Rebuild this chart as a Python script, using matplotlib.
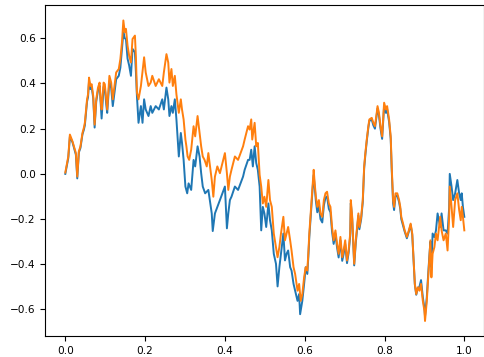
import numpy as np
import matplotlib
matplotlib.use("Agg")
import matplotlib.pyplot as plt

# two correlated random-walk paths, sampled at irregular times
t_a = [0.000, 0.0075, 0.0115, 0.018, 0.024, 0.0265, 0.030, 0.034, 0.038, 0.043,
       0.0465, 0.049, 0.0545, 0.057, 0.0595, 0.063, 0.066, 0.070, 0.0735, 0.0775,
       0.082, 0.086, 0.0885, 0.091, 0.096, 0.099, 0.1025, 0.105, 0.1105, 0.115,
       0.119, 0.1275, 0.134, 0.138, 0.142, 0.1455, 0.149, 0.152, 0.156, 0.160,
       0.1645, 0.1685, 0.1745, 0.177, 0.1795, 0.1835, 0.1895, 0.1935, 0.1975, 0.2015,
       0.2085, 0.214, 0.218, 0.2265, 0.2345, 0.243, 0.247, 0.2535, 0.258, 0.261,
       0.266, 0.2695, 0.2745, 0.2785, 0.2845, 0.2895, 0.2925, 0.2965, 0.301, 0.3055,
       0.309, 0.3155, 0.3215, 0.3255, 0.3315, 0.3365, 0.3405, 0.3445, 0.3505, 0.3585,
       0.367, 0.3695, 0.375, 0.381, 0.3875, 0.400, 0.405, 0.4085, 0.4125, 0.4165,
       0.425, 0.433, 0.4455, 0.4495, 0.458, 0.462, 0.466, 0.470, 0.4745, 0.4785,
       0.4825, 0.487, 0.491, 0.495, 0.499, 0.5035, 0.509, 0.513, 0.5175, 0.5225,
       0.528, 0.532, 0.5365, 0.5405, 0.5465, 0.5505, 0.5545, 0.5585, 0.5635, 0.567,
       0.572, 0.576, 0.582, 0.586, 0.5885, 0.594, 0.5985, 0.6025, 0.6065, 0.609,
       0.6115, 0.615, 0.6175, 0.620, 0.6225, 0.625, 0.628, 0.6315, 0.6355, 0.6395,
       0.644, 0.648, 0.652, 0.656, 0.6605, 0.6645, 0.6685, 0.6725, 0.677, 0.681,
       0.685, 0.6895, 0.694, 0.6975, 0.7015, 0.706, 0.710, 0.714, 0.7155, 0.719,
       0.724, 0.728, 0.7305, 0.7345, 0.737, 0.7415, 0.7455, 0.749, 0.752, 0.7555,
       0.7595, 0.762, 0.768, 0.772, 0.776, 0.780, 0.7825, 0.786, 0.790, 0.794,
       0.7965, 0.799, 0.8035, 0.8065, 0.8115, 0.8155, 0.818, 0.8215, 0.824, 0.8275,
       0.832, 0.8365, 0.8395, 0.842, 0.8465, 0.8505, 0.856, 0.861, 0.8655, 0.8695,
       0.8725, 0.876, 0.8795, 0.8835, 0.8875, 0.8915, 0.896, 0.900, 0.9015, 0.906,
       0.9085, 0.9125, 0.915, 0.9175, 0.9205, 0.925, 0.929, 0.933, 0.9395, 0.943,
       0.948, 0.9535, 0.958, 0.962, 0.9635, 0.968, 0.972, 0.977, 0.9825, 0.987,
       0.991, 0.9935, 0.9965, 1.000]
path_a = [0.000, 0.070, 0.165, 0.140, 0.100, 0.085, -0.020, 0.095, 0.115, 0.175,
          0.195, 0.215, 0.320, 0.340, 0.410, 0.375, 0.385, 0.335, 0.205, 0.320,
          0.370, 0.390, 0.315, 0.245, 0.385, 0.380, 0.310, 0.270, 0.410, 0.380,
          0.300, 0.419, 0.434, 0.470, 0.550, 0.625, 0.600, 0.597, 0.510, 0.480,
          0.434, 0.553, 0.538, 0.450, 0.345, 0.226, 0.300, 0.226, 0.330, 0.285,
          0.256, 0.300, 0.270, 0.300, 0.285, 0.330, 0.285, 0.382, 0.330, 0.256,
          0.300, 0.270, 0.330, 0.241, 0.077, 0.181, 0.137, 0.062, -0.056, -0.086,
          -0.042, -0.071, 0.062, 0.033, 0.122, 0.077, 0.003, -0.056, -0.086, -0.071,
          -0.175, -0.253, -0.175, -0.146, -0.116, -0.056, -0.241, -0.175, -0.116, -0.101,
          -0.056, -0.071, -0.012, 0.018, 0.062, 0.062, 0.107, 0.033, 0.122, 0.048,
          0.018, -0.056, -0.250, -0.146, -0.175, -0.235, -0.131, -0.205, -0.250, -0.354,
          -0.398, -0.498, -0.413, -0.354, -0.264, -0.383, -0.354, -0.339, -0.413, -0.428,
          -0.487, -0.517, -0.562, -0.532, -0.621, -0.562, -0.487, -0.413, -0.443, -0.370,
          -0.280, -0.190, -0.130, -0.060, -0.005, -0.060, -0.120, -0.170, -0.140, -0.200,
          -0.215, -0.140, -0.105, -0.100, -0.155, -0.170, -0.255, -0.310, -0.265, -0.325,
          -0.370, -0.295, -0.385, -0.355, -0.310, -0.395, -0.350, -0.275, -0.130, -0.200,
          -0.405, -0.305, -0.260, -0.185, -0.245, -0.200, -0.125, 0.025, 0.085, 0.145,
          0.205, 0.235, 0.240, 0.215, 0.200, 0.255, 0.290, 0.260, 0.200, 0.155,
          0.230, 0.300, 0.270, 0.285, 0.230, 0.155, 0.020, -0.130, -0.160, -0.100,
          -0.095, -0.125, -0.155, -0.200, -0.230, -0.255, -0.285, -0.255, -0.225, -0.270,
          -0.375, -0.490, -0.535, -0.505, -0.500, -0.470, -0.545, -0.595, -0.630, -0.545,
          -0.470, -0.360, -0.300, -0.413, -0.264, -0.280, -0.250, -0.175, -0.235, -0.175,
          -0.250, -0.250, -0.264, -0.150, 0.000, -0.056, -0.116, -0.086, -0.027, -0.086,
          -0.116, -0.086, -0.146, -0.190]

t_b = [0.000, 0.0075, 0.0115, 0.018, 0.024, 0.0265, 0.030, 0.034, 0.038, 0.043,
       0.0465, 0.049, 0.0545, 0.057, 0.0595, 0.063, 0.066, 0.070, 0.0735, 0.0775,
       0.082, 0.086, 0.0885, 0.091, 0.096, 0.099, 0.1025, 0.105, 0.1105, 0.115,
       0.119, 0.1275, 0.134, 0.138, 0.142, 0.1455, 0.149, 0.152, 0.156, 0.160,
       0.1645, 0.1685, 0.1745, 0.177, 0.1795, 0.1835, 0.1895, 0.1975, 0.2015, 0.2085,
       0.214, 0.218, 0.2265, 0.2345, 0.243, 0.247, 0.2535, 0.258, 0.261, 0.266,
       0.2695, 0.2745, 0.2785, 0.2845, 0.2895, 0.2925, 0.2965, 0.301, 0.3035, 0.3065,
       0.3105, 0.3155, 0.3215, 0.3255, 0.3315, 0.3365, 0.3405, 0.3445, 0.349, 0.3545,
       0.3585, 0.367, 0.371, 0.375, 0.381, 0.3875, 0.400, 0.405, 0.4085, 0.4125,
       0.4165, 0.425, 0.433, 0.4455, 0.4495, 0.458, 0.462, 0.466, 0.4685, 0.4745,
       0.4785, 0.4825, 0.487, 0.491, 0.495, 0.499, 0.5035, 0.509, 0.513, 0.5175,
       0.5225, 0.528, 0.532, 0.5365, 0.5405, 0.5465, 0.5505, 0.5545, 0.5585, 0.5635,
       0.567, 0.572, 0.576, 0.582, 0.586, 0.590, 0.594, 0.5985, 0.6025, 0.6065,
       0.609, 0.6115, 0.615, 0.6175, 0.620, 0.6225, 0.625, 0.628, 0.6315, 0.6355,
       0.6395, 0.644, 0.648, 0.652, 0.656, 0.6605, 0.6645, 0.6685, 0.6725, 0.677,
       0.681, 0.685, 0.6895, 0.694, 0.6975, 0.7015, 0.706, 0.710, 0.714, 0.7155,
       0.719, 0.724, 0.728, 0.7305, 0.7345, 0.737, 0.7415, 0.7455, 0.749, 0.752,
       0.7555, 0.7595, 0.762, 0.768, 0.772, 0.776, 0.780, 0.7825, 0.786, 0.790,
       0.794, 0.7965, 0.799, 0.8035, 0.8065, 0.8115, 0.8155, 0.818, 0.8215, 0.824,
       0.8275, 0.832, 0.8365, 0.8395, 0.842, 0.8465, 0.8505, 0.856, 0.861, 0.8655,
       0.8695, 0.8725, 0.876, 0.8795, 0.8835, 0.8875, 0.8915, 0.896, 0.900, 0.9015,
       0.906, 0.9085, 0.9125, 0.915, 0.9175, 0.9205, 0.925, 0.929, 0.933, 0.9395,
       0.943, 0.948, 0.9535, 0.958, 0.962, 0.9635, 0.968, 0.972, 0.977, 0.9825,
       0.987, 0.991, 0.9935, 0.9965, 1.000]
path_b = [0.006, 0.077, 0.174, 0.144, 0.107, 0.092, -0.012, 0.100, 0.122, 0.181,
          0.204, 0.226, 0.330, 0.352, 0.426, 0.389, 0.397, 0.345, 0.218, 0.330,
          0.382, 0.404, 0.330, 0.285, 0.404, 0.397, 0.330, 0.285, 0.434, 0.404,
          0.330, 0.449, 0.464, 0.508, 0.582, 0.679, 0.627, 0.642, 0.568, 0.523,
          0.493, 0.597, 0.612, 0.516, 0.360, 0.330, 0.389, 0.516, 0.449, 0.389,
          0.404, 0.434, 0.389, 0.419, 0.389, 0.449, 0.530, 0.493, 0.404, 0.464,
          0.389, 0.434, 0.352, 0.270, 0.330, 0.285, 0.241, 0.152, 0.122, 0.077,
          0.062, 0.107, 0.211, 0.166, 0.256, 0.181, 0.122, 0.077, 0.062, 0.033,
          0.092, -0.027, -0.101, -0.012, 0.033, 0.003, 0.092, 0.003, -0.071, -0.012,
          0.018, 0.077, 0.062, 0.122, 0.152, 0.211, 0.196, 0.241, 0.152, 0.226,
          0.122, 0.137, -0.004, -0.056, -0.131, -0.101, -0.146, -0.027, -0.116, -0.146,
          -0.264, -0.324, -0.369, -0.324, -0.264, -0.190, -0.294, -0.264, -0.235, -0.294,
          -0.339, -0.413, -0.443, -0.517, -0.487, -0.562, -0.532, -0.458, -0.413, -0.428,
          -0.354, -0.264, -0.175, -0.116, -0.042, 0.018, -0.042, -0.101, -0.146, -0.116,
          -0.175, -0.190, -0.116, -0.086, -0.079, -0.131, -0.146, -0.235, -0.294, -0.250,
          -0.309, -0.354, -0.279, -0.369, -0.339, -0.294, -0.383, -0.339, -0.264, -0.116,
          -0.190, -0.398, -0.294, -0.250, -0.175, -0.235, -0.190, -0.116, 0.033, 0.092,
          0.152, 0.211, 0.241, 0.248, 0.226, 0.211, 0.263, 0.300, 0.270, 0.211,
          0.166, 0.241, 0.315, 0.285, 0.300, 0.241, 0.166, 0.033, -0.116, -0.146,
          -0.086, -0.086, -0.116, -0.146, -0.190, -0.220, -0.250, -0.279, -0.250, -0.220,
          -0.264, -0.369, -0.487, -0.532, -0.502, -0.517, -0.487, -0.562, -0.606, -0.651,
          -0.562, -0.487, -0.369, -0.294, -0.458, -0.354, -0.324, -0.264, -0.294, -0.190,
          -0.250, -0.294, -0.264, -0.339, -0.190, -0.056, -0.146, -0.235, -0.116, -0.086,
          -0.160, -0.205, -0.146, -0.190, -0.250]

plt.rcParams['font.size'] = 7.6

fig = plt.figure(figsize=(4.85, 3.57), dpi=100)
ax = fig.add_axes([0.0935, 0.0588, 0.905, 0.926])

ax.plot(t_a, path_a, lw=1.4)
ax.plot(t_b, path_b, lw=1.4)

ax.set_xticks([0.0, 0.2, 0.4, 0.6, 0.8, 1.0])
ax.set_yticks([-0.6, -0.4, -0.2, 0.0, 0.2, 0.4, 0.6])

fig.savefig("out.png", dpi=100)
